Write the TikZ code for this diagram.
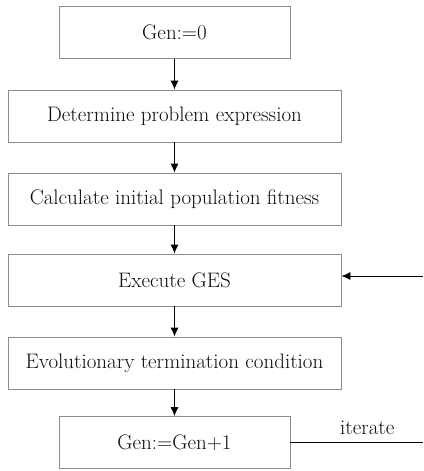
\documentclass[tikz,border=0pt]{standalone}
\usetikzlibrary{arrows.meta}
\begin{document}
\begin{tikzpicture}[x=1pt,y=-1pt,
  lbltext/.style={font=\fontsize{21}{24}\selectfont, text=black!95},
  stepbox/.style={draw=black!45, line width=0.9pt, minimum height=52pt, inner sep=0pt, lbltext},
  wide/.style={stepbox, minimum width=333pt},
  narrow/.style={stepbox, minimum width=231pt},
  flow/.style={line width=0.9pt, -{Latex[length=9pt,width=8pt]}}]
\useasboundingbox (0,0) rectangle (423,471);
\node[narrow] (g0)   at (174.5,32.5)  {Gen:=0};
\node[wide]   (prob) at (174.5,116)   {Determine problem expression};
\node[wide]   (fit)  at (174.5,199)   {Calculate initial population fitness};
\node[wide]   (ges)  at (174.5,280)   {Execute GES};
\node[wide]   (term) at (174.5,363)   {Evolutionary termination condition};
\node[narrow] (inc)  at (174.5,442.5) {Gen:=Gen+1};
\coordinate (inR)  at (423,276);
\coordinate (outR) at (423,442);
\draw[flow] (g0) -- (prob);
\draw[flow] (prob) -- (fit);
\draw[flow] (fit) -- (ges);
\draw[flow] (ges) -- (term);
\draw[flow] (term) -- (inc);
\draw[flow] (inR) -- (ges.east |- inR);
\draw[line width=0.9pt] (inc.east |- outR) -- node[pos=0.58, above=4pt, lbltext] (lbl) {iterate} (outR);
\end{tikzpicture}
\end{document}
